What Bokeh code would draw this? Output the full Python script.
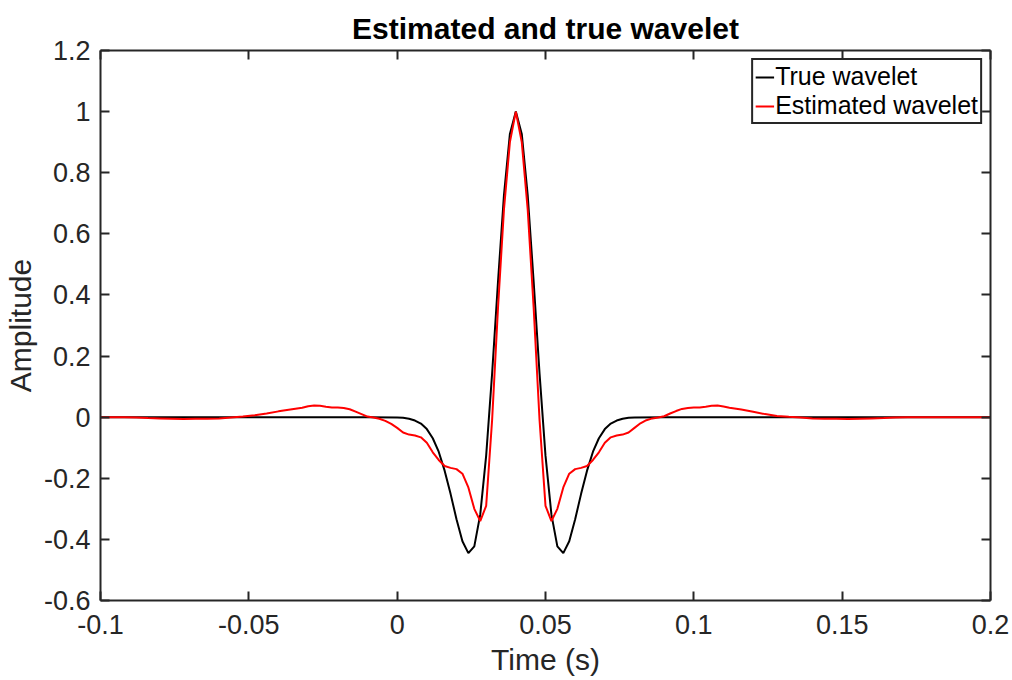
from bokeh.plotting import figure
from bokeh.models import LinearAxis, FixedTicker, Range1d
from bokeh.embed import file_html
from bokeh.resources import INLINE

# ---------------- data ----------------
true_t = [-0.1, -0.05, -0.01,
          0.0, 0.002, 0.004, 0.006, 0.008, 0.01, 0.012, 0.014, 0.016, 0.018,
          0.02, 0.022, 0.024, 0.026, 0.028, 0.03, 0.032, 0.034, 0.036, 0.038,
          0.04, 0.042, 0.044, 0.046, 0.048, 0.05, 0.052, 0.054, 0.056, 0.058,
          0.06, 0.062, 0.064, 0.066, 0.068, 0.07, 0.072, 0.074, 0.076, 0.078,
          0.08, 0.09, 0.13, 0.2]
true_v = [0.0, 0.0, 0.0,
          -0.001, -0.002, -0.005, -0.011, -0.021, -0.039, -0.069, -0.113, -0.175, -0.251,
          -0.334, -0.406, -0.445, -0.423, -0.319, -0.126, 0.142, 0.445, 0.727, 0.927,
          1.0, 0.927, 0.727, 0.445, 0.142, -0.126, -0.319, -0.423, -0.445, -0.406,
          -0.334, -0.251, -0.175, -0.113, -0.069, -0.039, -0.021, -0.011, -0.005, -0.002,
          -0.001, 0.0, 0.0, 0.0]

est_t = [-0.1, -0.092, -0.088, -0.084, -0.08, -0.076, -0.072, -0.068, -0.064,
         -0.06, -0.056, -0.052, -0.048, -0.044, -0.04, -0.036, -0.032,
         -0.03, -0.028, -0.026, -0.024, -0.022, -0.02, -0.018, -0.016, -0.014, -0.012,
         -0.01, -0.008, -0.006, -0.004, -0.002,
         0.0, 0.002, 0.004, 0.006, 0.008,
         0.01, 0.012, 0.014, 0.016, 0.018,
         0.02, 0.022, 0.024, 0.026, 0.028,
         0.03, 0.032, 0.034, 0.036, 0.038,
         0.04, 0.042, 0.044, 0.046, 0.048,
         0.05, 0.052, 0.054, 0.056, 0.058,
         0.06, 0.062, 0.064, 0.066, 0.068,
         0.07, 0.072, 0.074, 0.076, 0.078,
         0.08, 0.082, 0.084, 0.086, 0.088,
         0.09, 0.092, 0.094, 0.096, 0.098,
         0.1, 0.102, 0.104, 0.106, 0.108,
         0.11, 0.112,
         0.116, 0.12, 0.124, 0.128, 0.132, 0.136, 0.14, 0.144, 0.148, 0.152,
         0.156, 0.16, 0.164, 0.168, 0.172,
         0.18, 0.19, 0.2]
est_v = [0.0, 0.0, -0.001, -0.003, -0.004, -0.005, -0.006, -0.005, -0.005,
         -0.004, -0.001, 0.002, 0.006, 0.012, 0.019, 0.025, 0.031,
         0.036, 0.038, 0.037, 0.034, 0.032, 0.032, 0.03, 0.026, 0.018, 0.01,
         0.002, -0.001, -0.005, -0.012, -0.022,
         -0.035, -0.05, -0.057, -0.06, -0.066,
         -0.084, -0.115, -0.14, -0.16, -0.166,
         -0.17, -0.185, -0.23, -0.3, -0.34,
         -0.29, -0.01, 0.36, 0.68, 0.9,
         1.0, 0.9, 0.68, 0.36, -0.01,
         -0.29, -0.34, -0.3, -0.23, -0.185,
         -0.17, -0.166, -0.16, -0.14, -0.115,
         -0.084, -0.066, -0.06, -0.057, -0.05,
         -0.035, -0.02, -0.01, -0.004, -0.001,
         0.003, 0.012, 0.02, 0.027, 0.03,
         0.032, 0.032, 0.034, 0.037, 0.038,
         0.035, 0.031,
         0.025, 0.018, 0.01, 0.004, 0.001, -0.001, -0.004, -0.005, -0.005, -0.006,
         -0.005, -0.004, -0.003, -0.001, 0.0,
         0.0, 0.0, 0.0]

x_ticks = [-0.1, -0.05, 0.0, 0.05, 0.1, 0.15, 0.2]
x_tick_labels = ["-0.1", "-0.05", "0", "0.05", "0.1", "0.15", "0.2"]
y_ticks = [-0.6, -0.4, -0.2, 0.0, 0.2, 0.4, 0.6, 0.8, 1.0, 1.2]
y_tick_labels = ["-0.6", "-0.4", "-0.2", "0", "0.2", "0.4", "0.6", "0.8", "1", "1.2"]

title_text = "Estimated and true wavelet"
x_label = "Time (s)"
y_label = "Amplitude"
series_names = ["True wavelet", "Estimated wavelet"]

# ---------------- style ----------------
FONT = "Liberation Sans"
AX = "#262626"

p = figure(width=1012, height=680,
           x_range=Range1d(-0.1, 0.2), y_range=Range1d(-0.6, 1.2),
           output_backend="svg", toolbar_location=None,
           min_border_left=100, min_border_right=22,
           min_border_top=50, min_border_bottom=80,
           background_fill_color="white", border_fill_color="white")
p.xgrid.visible = False
p.ygrid.visible = False
p.outline_line_color = None

p.line(true_t, true_v, line_color="black", line_width=2, legend_label=series_names[0])
p.line(est_t, est_v, line_color="red", line_width=2, legend_label=series_names[1])


def style_axis(ax, show_labels=True, standoff=8):
    ax.axis_line_color = AX
    ax.axis_line_width = 2
    ax.major_tick_line_color = AX
    ax.major_tick_line_width = 2
    ax.major_tick_in = 9
    ax.major_tick_out = 0
    ax.minor_tick_in = 0
    ax.minor_tick_out = 0
    ax.minor_tick_line_color = None
    ax.major_label_text_font = FONT
    if show_labels:
        ax.major_label_text_color = AX
        ax.major_label_text_font_size = "27px"
        ax.major_label_standoff = standoff
    else:
        ax.major_label_text_color = None
        ax.major_label_text_font_size = "0px"
        ax.major_label_standoff = 0


xa = p.xaxis[0]
ya = p.yaxis[0]
xa.ticker = FixedTicker(ticks=x_ticks)
ya.ticker = FixedTicker(ticks=y_ticks)
xa.major_label_overrides = {t: s for t, s in zip(x_ticks, x_tick_labels)}
ya.major_label_overrides = {t: s for t, s in zip(y_ticks, y_tick_labels)}
style_axis(xa, standoff=14)
style_axis(ya, standoff=10)
for ax in (xa, ya):
    ax.axis_label_text_font = FONT
    ax.axis_label_text_font_size = "30px"
    ax.axis_label_text_font_style = "normal"
    ax.axis_label_text_color = AX
xa.axis_label_standoff = 6
ya.axis_label_standoff = 4
xa.axis_label = x_label
ya.axis_label = y_label

top = LinearAxis(ticker=FixedTicker(ticks=x_ticks))
right = LinearAxis(ticker=FixedTicker(ticks=y_ticks))
style_axis(top, show_labels=False)
style_axis(right, show_labels=False)
p.add_layout(top, "above")
p.add_layout(right, "right")

p.title.text = title_text
p.title.align = "center"
p.title.text_font = FONT
p.title.text_font_size = "30px"
p.title.text_font_style = "bold"
p.title.text_color = "black"
p.title.standoff = 11

lg = p.legend[0]
lg.location = "top_right"
lg.margin = 8
lg.border_line_color = AX
lg.border_line_width = 2
lg.border_line_alpha = 1.0
lg.background_fill_color = "white"
lg.background_fill_alpha = 1.0
lg.label_text_font = FONT
lg.label_text_font_size = "25px"
lg.label_text_color = "black"
lg.glyph_width = 19
lg.glyph_height = 26
lg.label_height = 26
lg.label_standoff = 1
lg.spacing = 0
lg.padding = 2

open("out.html", "w").write(file_html(p, INLINE))
